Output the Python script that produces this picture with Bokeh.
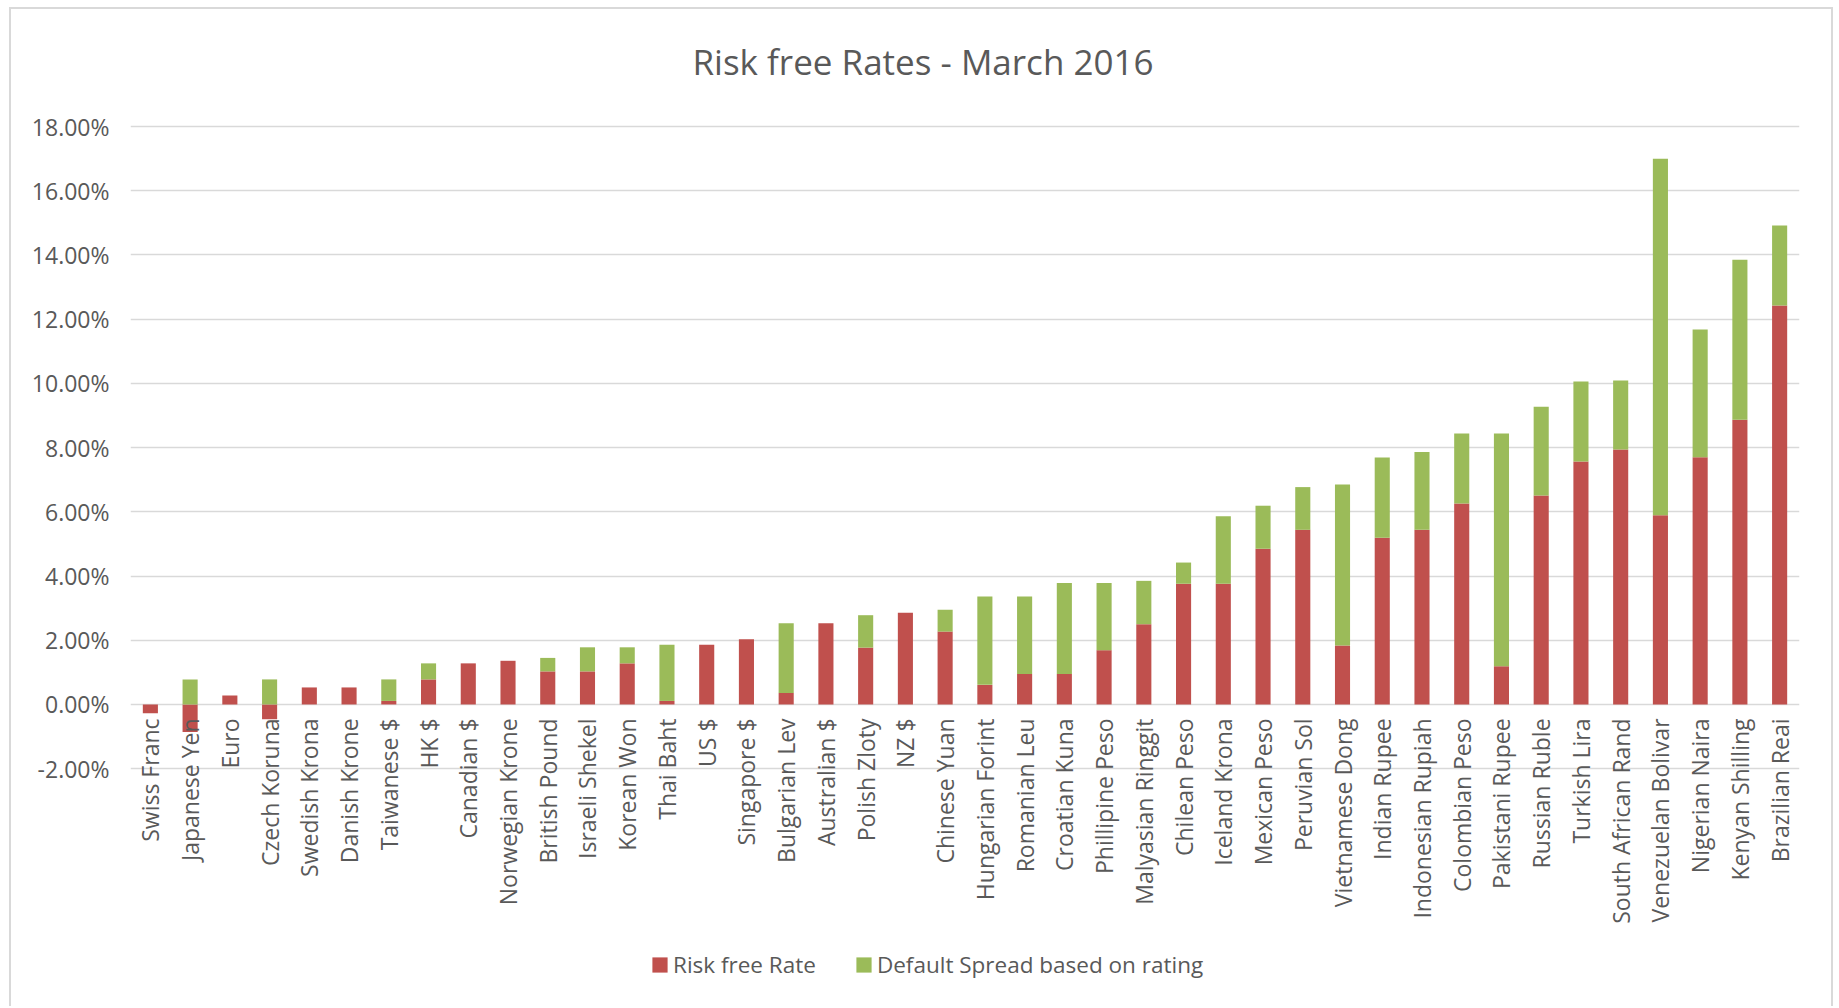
import numpy as np
from bokeh.plotting import figure
from bokeh.models import (ColumnDataSource, FactorRange, Range1d, FixedTicker,
                          PrintfTickFormatter, Legend, LegendItem)
from bokeh.core.properties import value
from bokeh.embed import file_html
from bokeh.resources import INLINE

# Currencies, ordered by total rate
currencies = [
    "Swiss Franc", "Japanese Yen", "Euro", "Czech Koruna", "Swedish Krona",
    "Danish Krone", "Taiwanese $", "HK $", "Canadian $", "Norwegian Krone",
    "British Pound", "Israeli Shekel", "Korean Won", "Thai Baht", "US $",
    "Singapore $", "Bulgarian Lev", "Australian $", "Polish Zloty", "NZ $",
    "Chinese Yuan", "Hungarian Forint", "Romanian Leu", "Croatian Kuna",
    "Phillipine Peso", "Malyasian Ringgit", "Chilean Peso", "Iceland Krona",
    "Mexican Peso", "Peruvian Sol", "Vietnamese Dong", "Indian Rupee",
    "Indonesian Rupiah", "Colombian Peso", "Pakistani Rupee", "Russian Ruble",
    "Turkish Lira", "South African Rand", "Venezuelan Bolivar", "Nigerian Naira",
    "Kenyan Shilling", "Brazilian Reai",
]

# Risk free rate (%), may be negative
risk_free = [
    -0.27, -0.86, 0.28, -0.46, 0.53, 0.53, 0.11, 0.78, 1.28, 1.36,
    1.03, 1.03, 1.28, 0.11, 1.86, 2.03, 0.36, 2.53, 1.77, 2.86,
    2.27, 0.61, 0.95, 0.95, 1.69, 2.50, 3.76, 3.76, 4.85, 5.44,
    1.84, 5.19, 5.44, 6.26, 1.19, 6.51, 7.57, 7.94, 5.89, 7.70,
    8.87, 12.43,
]

# Default spread based on sovereign rating (%)
default_spread = [
    0.00, 0.78, 0.00, 0.78, 0.00, 0.00, 0.67, 0.50, 0.00, 0.00,
    0.42, 0.75, 0.50, 1.75, 0.00, 0.00, 2.17, 0.00, 1.01, 0.00,
    0.68, 2.75, 2.41, 2.83, 2.09, 1.35, 0.66, 2.10, 1.34, 1.33,
    5.01, 2.50, 2.42, 2.18, 7.25, 2.76, 2.49, 2.15, 11.11, 3.98,
    4.98, 2.49,
]

y_ticks = [-2, 0, 2, 4, 6, 8, 10, 12, 14, 16, 18]

RED = "#C0504D"
GREEN = "#9BBB59"
TEXT = "#595959"
GRID = "#D9D9D9"
FONT = "Open Sans"

rf = np.array(risk_free)
sp = np.array(default_spread)
# positive parts stack upward from zero, negative parts downward
spread_base = np.maximum(rf, 0.0)

src = ColumnDataSource(dict(
    cur=currencies,
    rf=rf,
    zero=np.zeros_like(rf),
    sp_bottom=spread_base,
    sp_top=spread_base + sp,
))

W, H = 1824, 999
p = figure(
    x_range=FactorRange(factors=currencies),
    y_range=Range1d(-9.47, 18.5),
    width=W, height=H,
    output_backend="svg", toolbar_location=None,
    x_axis_location=None,
    min_border_left=119, min_border_right=36,
    min_border_top=101, min_border_bottom=0,
)
p.styles = {"margin-left": "9px", "margin-top": "7px",
            "border": "2px solid #D9D9D9", "border-bottom": "none"}

p.title.text = "Risk free Rates - March 2016"
p.title.align = "left"
p.title.offset = 562
p.title.text_font = FONT
p.title.text_font_size = "35px"
p.title.text_font_style = "normal"
p.title.text_color = TEXT
p.title.standoff = 52

p.outline_line_color = None
p.xgrid.grid_line_color = None
p.ygrid.grid_line_color = GRID
p.ygrid.grid_line_width = 1.5

ax = p.yaxis[0]
ax.ticker = FixedTicker(ticks=y_ticks)
ax.formatter = PrintfTickFormatter(format="%.2f%%")
ax.axis_line_color = None
ax.major_tick_line_color = None
ax.minor_tick_line_color = None
ax.major_label_text_font = FONT
ax.major_label_text_font_size = "23px"
ax.major_label_text_color = TEXT
ax.major_label_standoff = 15

bw = 0.38
r_red = p.vbar(x="cur", bottom="zero", top="rf", width=bw, source=src,
               fill_color=RED, line_color=None)
r_green = p.vbar(x="cur", bottom="sp_bottom", top="sp_top", width=bw,
                 source=src, fill_color=GREEN, line_color=None)

# category labels sit just under the zero line, rotated
p.text(x="cur", y="zero", text="cur", source=src, angle=np.pi / 2,
       text_align="right", text_baseline="middle", y_offset=14,
       text_font=value(FONT), text_font_size="23px", text_color=TEXT)

legend = Legend(
    items=[LegendItem(label="Risk free Rate", renderers=[r_red]),
           LegendItem(label="Default Spread based on rating", renderers=[r_green])],
    orientation="horizontal", location=(520, 28),
    label_text_font=FONT, label_text_font_size="22.5px", label_text_color=TEXT,
    glyph_width=19, glyph_height=19, label_standoff=4, spacing=38,
    padding=0, margin=0, border_line_color=None, background_fill_alpha=0,
)
p.add_layout(legend)

open("out.html", "w").write(file_html(p, INLINE))
